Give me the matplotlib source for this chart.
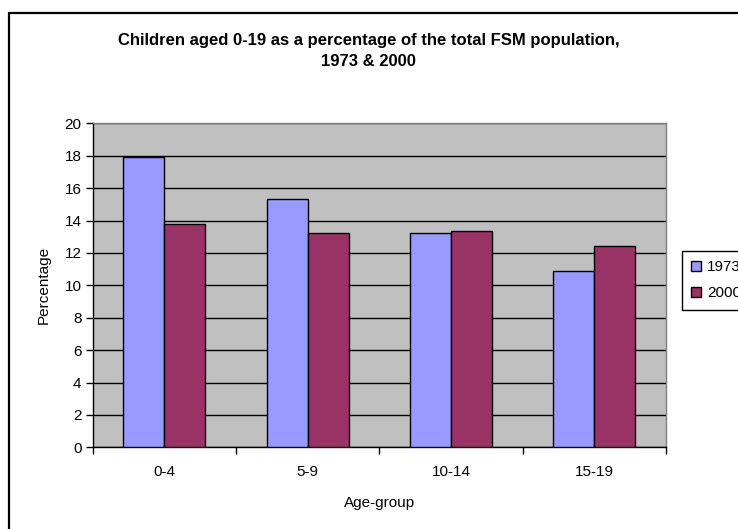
import matplotlib
matplotlib.use("Agg")
import matplotlib.pyplot as plt
from matplotlib.patches import Rectangle
import numpy as np

plt.rcParams['font.family'] = ['Liberation Sans', 'DejaVu Sans']

categories = ["0-4", "5-9", "10-14", "15-19"]
series_names = ["1973", "2000"]
values_1973 = [17.9, 15.3, 13.2, 10.9]
values_2000 = [13.8, 13.25, 13.35, 12.4]
yticks = [0, 2, 4, 6, 8, 10, 12, 14, 16, 18, 20]

W, H = 738, 529
fig = plt.figure(figsize=(W / 100, H / 100), dpi=100)

# outer chart border (cropped at right and bottom)
fig.patches.append(Rectangle((9 / W, -0.1), 1.2, 1 - 13 / H + 0.1, transform=fig.transFigure,
                             fill=False, edgecolor='black', linewidth=1.6, zorder=0))

left, right, top, bottom = 92.7, 666, 123.3, 447.3
ax = fig.add_axes([left / W, 1 - bottom / H, (right - left) / W, (bottom - top) / H])
ax.set_facecolor('#C0C0C0')

x = np.arange(len(categories))
bw = 41 / 143.3
ax.bar(x - bw / 2, values_1973, bw, color='#9999FF', edgecolor='black', linewidth=1.0,
       label=series_names[0], zorder=3)
ax.bar(x + bw / 2, values_2000, bw, color='#993366', edgecolor='black', linewidth=1.0,
       label=series_names[1], zorder=3)

fs = 11
ax.set_xlim(-0.5, len(categories) - 0.5)
ax.set_ylim(0, 20)
ax.set_yticks(yticks)
ax.set_yticklabels([str(t) for t in yticks], fontsize=fs)
ax.yaxis.grid(True, color='black', linewidth=1.0, zorder=1)
ax.set_axisbelow(True)

ax.set_xticks(np.arange(len(categories) + 1) - 0.5)
ax.set_xticklabels([])
ax.set_xticks(x, minor=True)
ax.set_xticklabels(categories, minor=True, fontsize=fs)
ax.tick_params(axis='x', which='minor', length=0, pad=13)
ax.tick_params(axis='x', which='major', length=5, width=1, direction='out')
ax.tick_params(axis='y', length=5, width=1, direction='out', pad=3)

for s in ['top', 'right']:
    ax.spines[s].set_color('#808080')
    ax.spines[s].set_linewidth(1.0)
for s in ['left', 'bottom']:
    ax.spines[s].set_color('black')
    ax.spines[s].set_linewidth(1.0)

ax.set_xlabel("Age-group", fontsize=fs, labelpad=12)
ax.set_ylabel("Percentage", fontsize=fs, labelpad=10)

cx = 0.5 * (117 + 620) / W
fig.text(cx, 1 - 40 / H, "Children aged 0-19 as a percentage of the total FSM population,",
         ha='center', va='center', fontsize=12, fontweight='bold')
fig.text(cx, 1 - 62 / H, "1973 & 2000",
         ha='center', va='center', fontsize=12, fontweight='bold')

leg = ax.legend(loc='upper left', bbox_to_anchor=(682 / W, 1 - 251 / H), bbox_transform=fig.transFigure,
                fontsize=fs, frameon=True, fancybox=False, edgecolor='black', framealpha=1,
                handlelength=0.65, handleheight=0.65, handletextpad=0.4, borderpad=0.6,
                labelspacing=0.8, borderaxespad=0)
leg.get_frame().set_linewidth(1.0)

fig.savefig("out.png", dpi=100)
